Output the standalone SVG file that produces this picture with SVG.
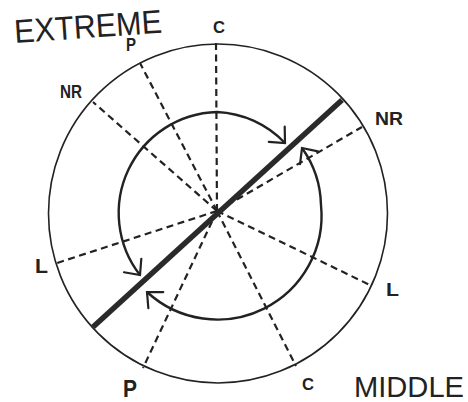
<svg xmlns="http://www.w3.org/2000/svg" width="468" height="402" viewBox="0 0 468 402">
  <defs>
    <marker id="chev" markerUnits="userSpaceOnUse" markerWidth="30" markerHeight="30" refX="0" refY="0" orient="auto-start-reverse" overflow="visible">
      <path d="M -12 -11 L 0 0 L -12 11" fill="none" stroke="#222" stroke-width="2.2" stroke-linecap="round" stroke-linejoin="miter"/>
    </marker>
  </defs>
  <style>
    .outer { fill: none; stroke: #222; stroke-width: 1.6; }
    .dash { fill: none; stroke: #222; stroke-width: 2.2; stroke-dasharray: 7 4.5; }
    .arc { fill: none; stroke: #222; stroke-width: 2.4; }
    .thick { stroke: #2a2a2a; stroke-width: 5.5; stroke-linecap: butt; }
    .lbl { font-family: "Liberation Sans", Arial, sans-serif; fill: #222; }
  </style>
  <rect width="468" height="402" fill="#ffffff"/>

  <g id="outer-circle">
    <circle class="outer" cx="218" cy="213.5" r="169.5"/>
  </g>

  <g id="connectors">
    <line class="dash" x1="217" y1="211" x2="216" y2="43"/>
    <line class="dash" x1="217" y1="211" x2="140" y2="63"/>
    <line class="dash" x1="217" y1="211" x2="93" y2="102"/>
    <line class="dash" x1="217" y1="211" x2="362" y2="127"/>
    <line class="dash" x1="217" y1="211" x2="57" y2="263"/>
    <line class="dash" x1="217" y1="211" x2="372" y2="286"/>
    <line class="dash" x1="217" y1="211" x2="143" y2="368"/>
    <line class="dash" x1="217" y1="211" x2="296" y2="366"/>
    <path id="upper-arc" class="arc" d="M 140 275 A 101 101 0 0 1 217 112 A 100 100 0 0 1 285 143" marker-start="url(#chev)" marker-end="url(#chev)"/>
    <path id="lower-arc" class="arc" d="M 147 292 A 104 104 0 0 0 321 205 A 102 102 0 0 0 302 148" marker-start="url(#chev)" marker-end="url(#chev)"/>
  </g>

  <g id="axis">
    <line class="thick" x1="93" y1="327" x2="342" y2="100"/>
  </g>

  <g id="labels">
    <text class="lbl" x="15" y="43" font-size="33" textLength="148" lengthAdjust="spacingAndGlyphs" transform="rotate(-4 15 43)">EXTREME</text>
    <text class="lbl" x="354" y="397" font-size="30" textLength="110" lengthAdjust="spacingAndGlyphs">MIDDLE</text>
    <text class="lbl" x="213" y="33" font-size="17" font-weight="bold" textLength="12" lengthAdjust="spacingAndGlyphs">C</text>
    <text class="lbl" x="126" y="51" font-size="18" font-weight="bold" textLength="10" lengthAdjust="spacingAndGlyphs">P</text>
    <text class="lbl" x="60" y="98" font-size="18" font-weight="bold" textLength="22" lengthAdjust="spacingAndGlyphs">NR</text>
    <text class="lbl" x="375" y="125" font-size="19" font-weight="bold" textLength="28" lengthAdjust="spacingAndGlyphs">NR</text>
    <text class="lbl" x="35" y="273" font-size="21" font-weight="bold" textLength="13" lengthAdjust="spacingAndGlyphs">L</text>
    <text class="lbl" x="386" y="296" font-size="18" font-weight="bold" textLength="13" lengthAdjust="spacingAndGlyphs">L</text>
    <text class="lbl" x="123" y="397" font-size="23" font-weight="bold" textLength="14" lengthAdjust="spacingAndGlyphs">P</text>
    <text class="lbl" x="302" y="390" font-size="16" font-weight="bold" textLength="12" lengthAdjust="spacingAndGlyphs">C</text>
  </g>
</svg>
